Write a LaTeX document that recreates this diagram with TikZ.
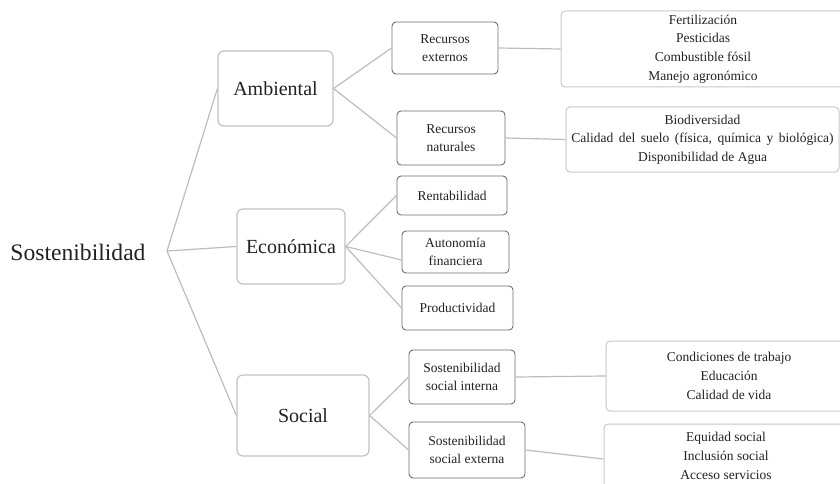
\documentclass[tikz,border=0pt]{standalone}
\usepackage{fontspec}
\setmainfont{Liberation Serif}
\definecolor{lineC}{HTML}{BDBDBD}
\definecolor{boxA}{HTML}{C2C2C2}
\definecolor{boxB}{HTML}{6E6E6E}
\definecolor{boxC}{HTML}{C8C8C8}
\definecolor{txt}{HTML}{222222}
\tikzset{
  lone/.style={draw=boxA, rounded corners=6pt, line width=1.2pt, inner sep=0pt, align=center, text=txt, font=\fontsize{20}{24}\selectfont},
  ltwo/.style={draw=boxB, rounded corners=4pt, line width=0.9pt, inner sep=0pt, align=center, text=txt, font=\fontsize{13.5}{17.5}\selectfont},
  lthree/.style={draw=boxC, rounded corners=4pt, line width=1pt, inner sep=0pt, align=center, text=txt, font=\fontsize{13.5}{18.7}\selectfont},
  conn/.style={draw=lineC, line width=1.2pt}
}
\begin{document}
\begin{tikzpicture}[x=1pt,y=-1pt]
\useasboundingbox (0,0) rectangle (840,484);
\clip (0,0) rectangle (840,484);
\fill[white] (0,0) rectangle (840,484);

\node[text=txt, font=\fontsize{23.6}{28}\selectfont, inner sep=0pt] (sost) at (78,252) {Sostenibilidad};
\coordinate (hub) at (167,251);

\node[lone, minimum width=115pt, minimum height=75pt] (amb) at (275.5,88.5) {Ambiental};
\node[lone, minimum width=108pt, minimum height=75pt] (eco) at (291,246.5) {Económica};
\node[lone, minimum width=132pt, minimum height=81pt] (soc) at (303,415.5) {Social};

\node[ltwo, minimum width=106pt, minimum height=52pt] (re) at (445,48) {Recursos\\externos};
\node[ltwo, minimum width=108pt, minimum height=54pt] (rn) at (451,138) {Recursos\\naturales};
\node[ltwo, minimum width=110pt, minimum height=39pt] (rent) at (452,195.5) {Rentabilidad};
\node[ltwo, minimum width=107pt, minimum height=42pt] (auton) at (455.5,252) {Autonomía\\financiera};
\node[ltwo, minimum width=111pt, minimum height=44pt] (prod) at (457.5,308) {Productividad};
\node[ltwo, minimum width=106pt, minimum height=54pt] (ssi) at (462,377) {Sostenibilidad\\social interna};
\node[ltwo, minimum width=116pt, minimum height=56pt] (sse) at (467,450) {Sostenibilidad\\social externa};

\node[lthree, minimum width=284pt, minimum height=76pt] (fert) at (703,49) {Fertilización\\Pesticidas\\Combustible fósil\\Manejo agronómico};
\node[lthree, minimum width=273pt, minimum height=65pt] (bio) at (702.5,139.5) {Biodiversidad\\{\spaceskip=5.5pt Calidad del suelo (física, química y biológica)}\\Disponibilidad de Agua};
\node[lthree, minimum width=246pt, minimum height=70pt] (cond) at (729,376) {Condiciones de trabajo\\Educación\\Calidad de vida};
\node[lthree, minimum width=244pt, minimum height=64pt] (equ) at (726,456) {Equidad social\\Inclusión social\\Acceso servicios};

\draw[conn] (hub) -- (amb.west);
\draw[conn] (hub) -- (eco.west);
\draw[conn] (hub) -- (soc.west);

\draw[conn] (amb.east) -- (re.west);
\draw[conn] (amb.east) -- (rn.west);
\draw[conn] (eco.east) -- (rent.west);
\draw[conn] (eco.east) -- ([yshift=-8pt]auton.west);
\draw[conn] (eco.east) -- (prod.west);
\draw[conn] (soc.east) -- (ssi.west);
\draw[conn] (soc.east) -- (sse.west);

\draw[conn] (re.east) -- (fert.west);
\draw[conn] (rn.east) -- (bio.west);
\draw[conn] (ssi.east) -- (cond.west);
\draw[conn] (sse.east) -- ([yshift=-3pt]equ.west);
\end{tikzpicture}
\end{document}
